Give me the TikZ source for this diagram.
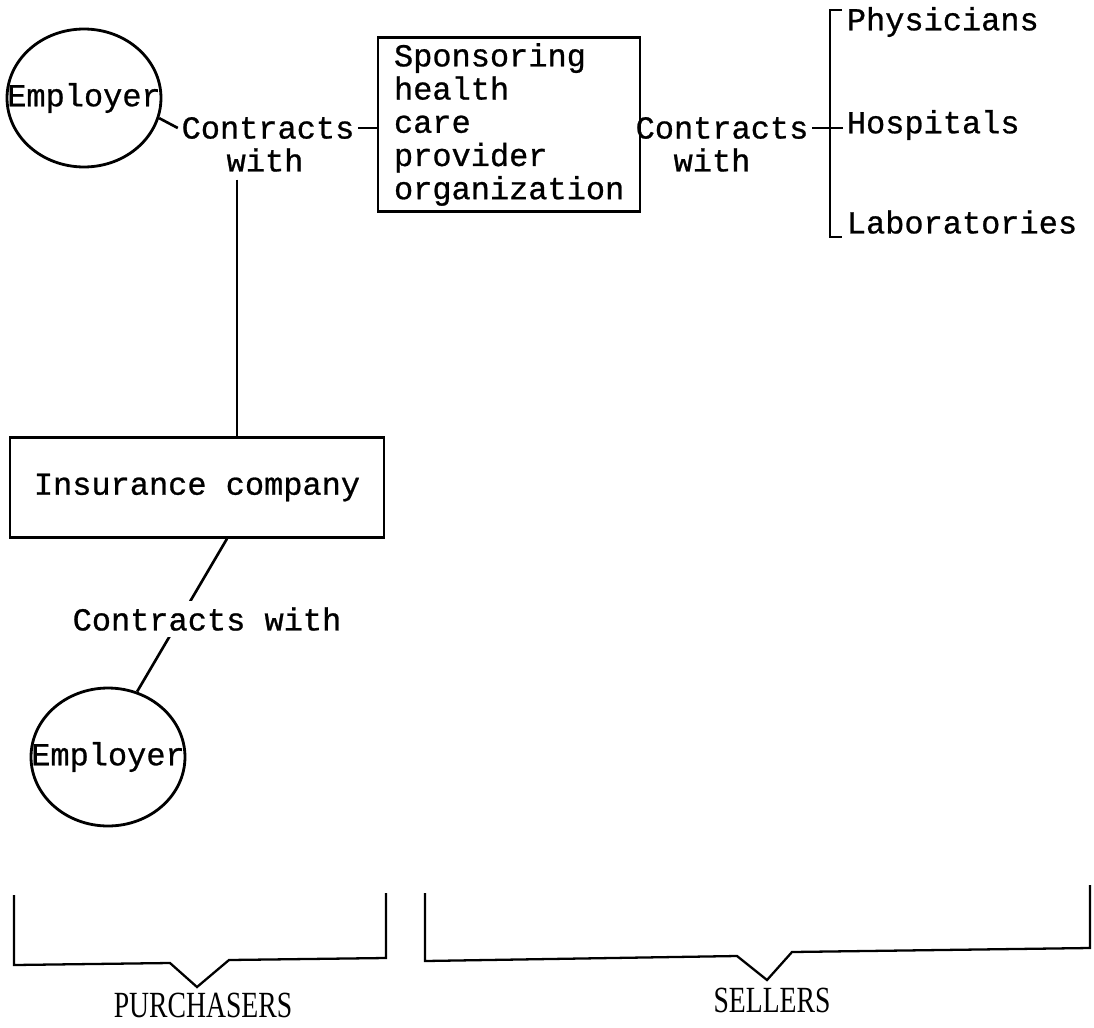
\documentclass[tikz,border=0pt]{standalone}
\usepackage{fontspec}
\setmonofont{Liberation Mono}[FakeBold=0.8]
\newfontfamily\labelfont{Liberation Serif}
\usetikzlibrary{shapes.geometric, positioning, calc}
\newcommand{\typefont}{\ttfamily\fontsize{18.2}{18.9}\selectfont}
\newcommand{\sidetext}[1]{\scalebox{0.75}[1]{#1}}
\tikzset{
  employer/.style={ellipse, draw, line width=1.6pt, minimum width=3.08cm,
                   minimum height=2.76cm, inner sep=0pt, font=\typefont},
  orgbox/.style={rectangle, draw, line width=1.4pt, font=\typefont},
  linktext/.style={inner sep=2pt, font=\typefont},
  link/.style={line width=1.5pt},
  brace/.style={line width=1.3pt},
  sidelabel/.style={inner sep=0pt, font=\labelfont\fontsize{21}{24}\selectfont},
}
\begin{document}
\begin{tikzpicture}[x=0.02cm, y=-0.02cm]
  \useasboundingbox (0,0) rectangle (1094,1027);

  % Parties
  \node[employer] (emp1) at (84,98) {\makebox[0pt]{Employer}};
  \node[orgbox, minimum width=5.24cm, minimum height=3.3cm, text width=4.6cm,
        inner xsep=0.32cm, align=left] (spons) at (509,124.5)
        {Sponsoring\\health\\care\\provider\\organization};
  \node[orgbox, minimum width=7.48cm, minimum height=2cm] (ins) at (197,487.5) {Insurance company};
  \node[employer] (emp2) at (108,757) {\makebox[0pt]{Employer}};

  % Providers
  \node[linktext, anchor=west] (phys) at (843,22) {Physicians};
  \node[linktext, anchor=west] (hosp) at (843,125) {Hospitals};
  \node[linktext, anchor=west] (lab) at (843,222) {Laboratories};

  % Contract labels
  \node[linktext] (c1) at (268,128) {Contracts};
  \node[linktext] (w1) at (265,160) {with};
  \node[linktext] (c2) at (722,128) {Contracts};
  \node[linktext] (w2) at (712,160) {with};

  % Links
  \draw[link] (emp1.-15) -- (c1.west);
  \draw[link] (c1.east) -- (c1.east -| spons.west);
  \draw[link] (c2.east) -- (c2.east -| hosp.west);
  \coordinate (drop) at ($(w1.south)+(-28,4)$);
  \draw[link] (drop) -- (drop |- ins.north);
  \draw[link] ([xshift=0.6cm]ins.south) -- (emp2.66);
  \node[linktext, fill=white, inner xsep=0pt, inner ysep=0.12cm] (c3) at (207,619) {Contracts with};

  % Bracket
  \draw[link] (842,10) -- (830,10) -- (830,237) -- (842,237);

  % Braces
  \draw[brace] (14,895) -- (14,965) -- (170,963) -- (197,987) -- (229,960) -- (386,958) -- (386,893);
  \draw[brace] (425,893) -- (425,961) -- (737,956) -- (767,980) -- (792,952) -- (1090,948) -- (1090,885);
  \node[sidelabel] (pur) at (203,1005) {\sidetext{PURCHASERS}};
  \node[sidelabel] (sel) at (772,1000) {\sidetext{SELLERS}};
\end{tikzpicture}
\end{document}
